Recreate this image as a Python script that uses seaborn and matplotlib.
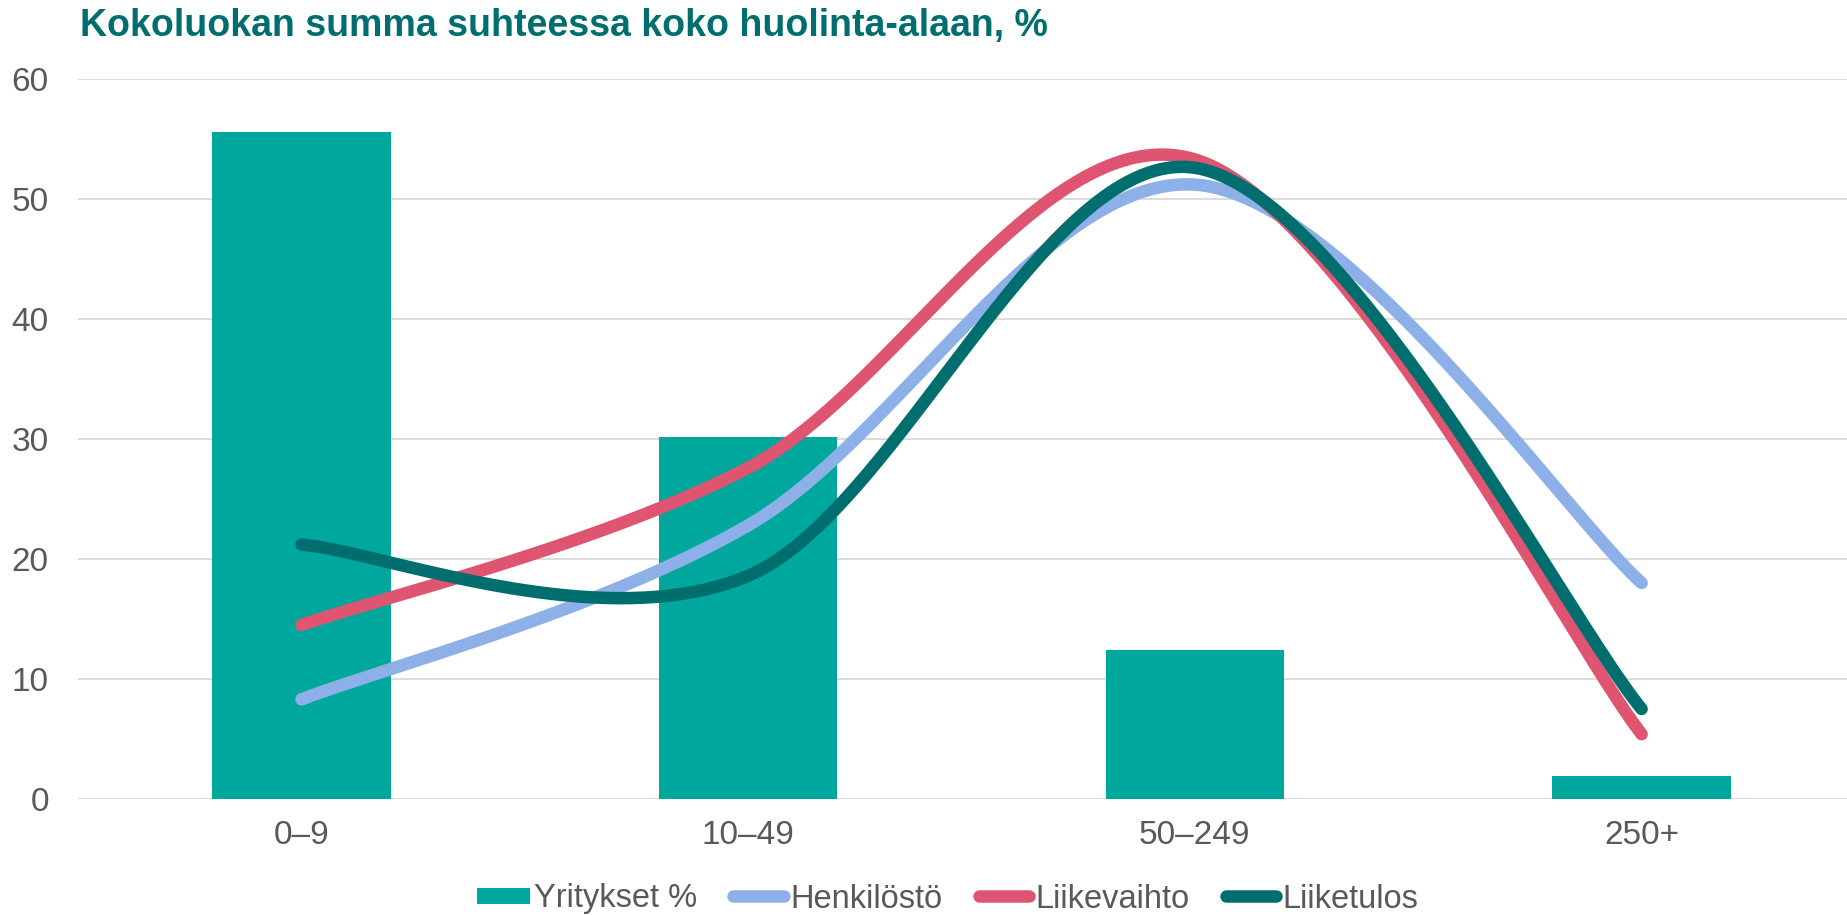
import numpy as np
import pandas as pd
import matplotlib
matplotlib.use("Agg")
import matplotlib.pyplot as plt
import seaborn as sns
from matplotlib.patches import Rectangle
from matplotlib.lines import Line2D
from matplotlib.legend_handler import HandlerPatch

categories = ["0–9", "10–49", "50–249", "250+"]
yritykset = [55.6, 30.2, 12.4, 1.9]
henkilosto = [8.3, 22.8, 51.2, 18.0]
liikevaihto = [14.5, 27.6, 53.3, 5.4]
liiketulos = [21.2, 18.6, 52.6, 7.5]
yticks = [0, 10, 20, 30, 40, 50, 60]
title = "Kokoluokan summa suhteessa koko huolinta-alaan, %"

C_BAR = "#00A79D"
C_HENK = "#8DB0E8"
C_LV = "#DF5470"
C_LT = "#006E6E"
C_TXT = "#595959"
C_GRID = "#D9D9D9"

sns.set_theme(style="white")
plt.rcParams["font.family"] = ["Liberation Sans", "DejaVu Sans"]

W, H = 1847, 915
fig = plt.figure(figsize=(W / 100, H / 100), dpi=100)
ax = fig.add_axes([78 / W, (H - 799) / H, (1865 - 78) / W, (799 - 79) / H])

df = pd.DataFrame({"cat": categories, "val": yritykset})
sns.barplot(data=df, x="cat", y="val", color=C_BAR, saturation=1, width=0.4,
            ax=ax, zorder=2, edgecolor="none")


def smooth(ys, n=80):
    # Excel-style smoothed line (Bezier with Catmull-Rom tangents)
    pts = np.array([[i, v] for i, v in enumerate(ys)], dtype=float)
    ext = np.vstack([pts[0], pts, pts[-1]])
    out = []
    t = np.linspace(0, 1, n)[:, None]
    for i in range(len(pts) - 1):
        p0 = ext[i + 1]
        p3 = ext[i + 2]
        c1 = p0 + (ext[i + 2] - ext[i]) / 6
        c2 = p3 - (ext[i + 3] - ext[i + 1]) / 6
        seg = ((1 - t) ** 3) * p0 + 3 * ((1 - t) ** 2) * t * c1 + 3 * (1 - t) * t ** 2 * c2 + t ** 3 * p3
        out.append(seg if i == 0 else seg[1:])
    return np.vstack(out)


for ys, col in [(henkilosto, C_HENK), (liikevaihto, C_LV), (liiketulos, C_LT)]:
    cur = smooth(ys)
    cdf = pd.DataFrame({"x": cur[:, 0], "y": cur[:, 1]})
    sns.lineplot(data=cdf, x="x", y="y", sort=False, color=col, lw=9,
                 solid_capstyle="round", ax=ax, zorder=3)

ax.set_xlim(-0.5, 3.5)
ax.set_ylim(0, 60)
ax.set_yticks(yticks)
ax.set_yticklabels([str(v) for v in yticks])
ax.set_xlabel("")
ax.set_ylabel("")
ax.grid(axis="y", color=C_GRID, lw=1.3, zorder=0)
ax.set_axisbelow(True)
for s in ax.spines.values():
    s.set_visible(False)
ax.tick_params(axis="both", length=0, labelsize=24, labelcolor=C_TXT)
ax.tick_params(axis="y", pad=21)
ax.tick_params(axis="x", pad=15)

fig.text(80 / W, 1 - 36.5 / H, title, fontsize=27, fontweight="bold",
         color=C_LT, ha="left", va="baseline")


class BoxHandler(HandlerPatch):
    def create_artists(self, legend, orig_handle, xdescent, ydescent, width, height, fontsize, trans):
        w = width * 1.04
        h = 16 * 72 / 100
        r = Rectangle((-xdescent, -ydescent + height / 2 - h / 2), w, h,
                      facecolor=C_BAR, edgecolor="none", transform=trans)
        return [r]


handles = [Rectangle((0, 0), 1, 1, color=C_BAR),
           Line2D([], [], color=C_HENK, lw=9, solid_capstyle="round"),
           Line2D([], [], color=C_LV, lw=9, solid_capstyle="round"),
           Line2D([], [], color=C_LT, lw=9, solid_capstyle="round")]
labels = ["Yritykset %", "Henkilöstö", "Liikevaihto", "Liiketulos"]
leg = fig.legend(handles, labels, loc="center", bbox_to_anchor=(948 / W, 1 - 899 / H),
                 ncol=4, frameon=False, fontsize=23.5, handlelength=1.55,
                 handletextpad=0.2, columnspacing=1.1, labelcolor=C_TXT,
                 handler_map={Rectangle: BoxHandler()})

fig.savefig("out.png", dpi=100)
